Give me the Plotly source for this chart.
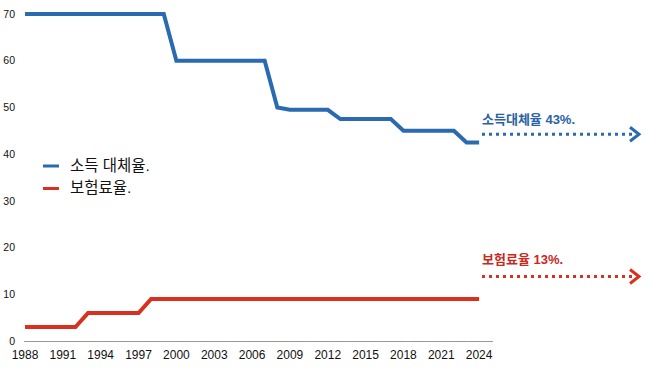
import plotly.graph_objects as go

years = list(range(1988, 2025))
replacement_rate = ([70] * 12 + [60] * 8 + [50] + [49.5] * 4 + [47.5] * 5 + [45] * 5 + [42.5] * 2)
contribution_rate = ([3] * 5 + [6] * 5 + [9] * 27)
series_names = ["소득 대체율.", "보험료율."]
target_labels = ["소득대체율 43%.", "보험료율 13%."]
x_ticks = list(range(1988, 2025, 3))
y_ticks = list(range(0, 80, 10))

BLUE = "#2a6ab0"
RED = "#d8311f"
BLUE_T = "#2a62a6"
RED_T = "#c9281d"
FONT = "Liberation Sans, Arial, Noto Sans CJK KR"

W, H = 658, 370
L, R, T, B = 24, 0, 10, 29
PW, PH = W - L - R, H - T - B


def px(x):
    return (x - L) / PW


def py(y):
    return 1 - (y - T) / PH


fig = go.Figure()
fig.add_trace(go.Scatter(x=years, y=replacement_rate, mode="lines", name=series_names[0],
                         line=dict(color=BLUE, width=4), showlegend=False))
fig.add_trace(go.Scatter(x=years, y=contribution_rate, mode="lines", name=series_names[1],
                         line=dict(color=RED, width=4), showlegend=False))

shapes = []
annotations = []
# manual legend
for i, (name, col) in enumerate(zip(series_names, [BLUE, RED])):
    yy = 166 + i * 22.5
    shapes.append(dict(type="line", xref="paper", yref="paper", x0=px(43), x1=px(59),
                       y0=py(yy), y1=py(yy), line=dict(color=col, width=3)))
    annotations.append(dict(text=name, xref="paper", yref="paper", x=px(68), y=py(yy - 1),
                            xanchor="left", yanchor="middle", showarrow=False,
                            font=dict(family=FONT, size=15.5, color="#111")))

# target arrows
for label, col, tcol, ty, ly in [(target_labels[0], BLUE, BLUE_T, 119, 134.3),
                                 (target_labels[1], RED, RED_T, 259, 276.5)]:
    annotations.append(dict(text="<b>" + label + "</b>", xref="paper", yref="paper",
                            x=px(480), y=py(ty), xanchor="left", yanchor="middle",
                            showarrow=False, font=dict(family=FONT, size=13, color=tcol)))
    shapes.append(dict(type="line", xref="paper", yref="paper", x0=px(482), x1=px(634),
                       y0=py(ly), y1=py(ly), line=dict(color=col, width=3, dash="3px,4px")))
    shapes.append(dict(type="path", xref="paper", yref="paper",
                       path=f"M {px(630)},{py(ly - 7)} L {px(639)},{py(ly)} L {px(630)},{py(ly + 7)}",
                       line=dict(color=col, width=3)))

fig.update_layout(
    width=W, height=H,
    margin=dict(l=L, r=R, t=T, b=B),
    paper_bgcolor="white", plot_bgcolor="white",
    shapes=shapes, annotations=annotations,
    font=dict(family=FONT, color="#111"),
)
fig.update_xaxes(domain=[0, px(493)], range=[1987.92, 2025.1], tickvals=x_ticks,
                 showgrid=False, zeroline=False, showline=True, linecolor="#999", linewidth=1,
                 ticks="", tickfont=dict(size=12, color="#111"), automargin=False,
                 ticklabelstandoff=3)
fig.update_yaxes(range=[0, 70.86], tickvals=y_ticks, showgrid=False, zeroline=False,
                 showline=False, ticks="", tickfont=dict(size=10.5, color="#111"),
                 ticklabelstandoff=8, automargin=False)

fig.write_html("out.html", config={"displayModeBar": False},
               post_script="document.body.style.margin='0';document.body.style.overflow='hidden';")
